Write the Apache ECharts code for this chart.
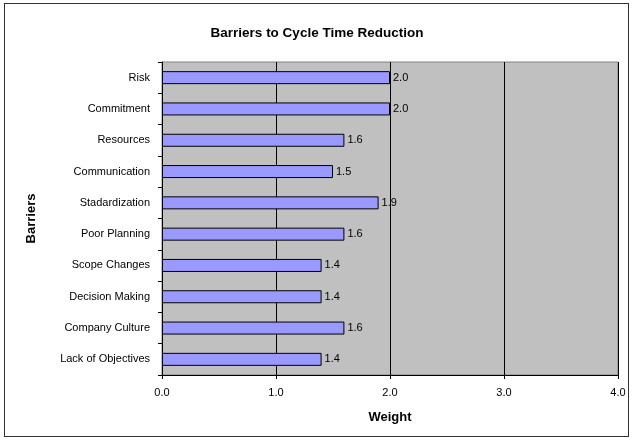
<!DOCTYPE html>
<html>
<head>
<meta charset="utf-8">
<script src="https://cdn.jsdelivr.net/npm/echarts@6/dist/echarts.min.js"></script>
<style>
  html, body { margin: 0; padding: 0; background: #fff; }
  #frame { position: absolute; left: 4px; top: 3px; width: 625px; height: 434px; border: 1px solid #333; box-sizing: border-box; }
  #chart { position: absolute; left: 0; top: 0; width: 634px; height: 441px; }
</style>
</head>
<body>
<div id="frame"></div>
<div id="chart"></div>
<script>
// Barrier categories, bottom to top as drawn on the value axis
const barriers = ['Lack of Objectives', 'Company Culture', 'Decision Making', 'Scope Changes',
  'Poor Planning', 'Stadardization', 'Communication', 'Resources', 'Commitment', 'Risk'];
const weights = [1.4, 1.6, 1.4, 1.4, 1.6, 1.9, 1.5, 1.6, 2.0, 2.0];
const weightTicks = [0, 1, 2, 3, 4];

const font = 'Liberation Sans, Arial, sans-serif';
const chart = echarts.init(document.getElementById('chart'));
chart.setOption({
  animation: false,
  title: {
    text: 'Barriers to Cycle Time Reduction',
    left: 'center', top: 21,
    textStyle: { fontFamily: font, fontSize: 13.5, fontWeight: 'bold', color: '#000' }
  },
  grid: {
    left: 162, right: 16, top: 62, bottom: 66,
    show: true, backgroundColor: '#C0C0C0', borderColor: '#808080', borderWidth: 1
  },
  xAxis: {
    type: 'value',
    min: weightTicks[0], max: weightTicks[weightTicks.length - 1], interval: 1,
    name: 'Weight', nameLocation: 'middle', nameGap: 36,
    nameTextStyle: { fontFamily: font, fontSize: 13, fontWeight: 'bold', color: '#000' },
    axisLine: { show: true, lineStyle: { color: '#000', width: 1 } },
    axisTick: { show: true, length: 4, lineStyle: { color: '#000' } },
    axisLabel: { fontFamily: font, fontSize: 11, color: '#000', margin: 12,
      formatter: v => v.toFixed(1) },
    splitLine: { show: true, lineStyle: { color: '#000', width: 1 } }
  },
  yAxis: {
    type: 'category',
    data: barriers,
    name: 'Barriers', nameLocation: 'middle', nameGap: 124, nameRotate: 90,
    nameTextStyle: { fontFamily: font, fontSize: 13, fontWeight: 'bold', color: '#000' },
    axisLine: { show: true, lineStyle: { color: '#000', width: 1 } },
    axisTick: { show: true, length: 4, inside: false, lineStyle: { color: '#000' } },
    axisLabel: { fontFamily: font, fontSize: 11, color: '#000', margin: 12 },
    splitLine: { show: false }
  },
  series: [{
    type: 'bar',
    data: weights,
    barWidth: 13,
    itemStyle: { color: '#9999FF', borderColor: '#000', borderWidth: 1 },
    label: {
      show: true, position: 'right', distance: 3,
      fontFamily: font, fontSize: 11, color: '#000',
      formatter: p => p.value.toFixed(1)
    }
  }]
});
</script>
</body>
</html>
